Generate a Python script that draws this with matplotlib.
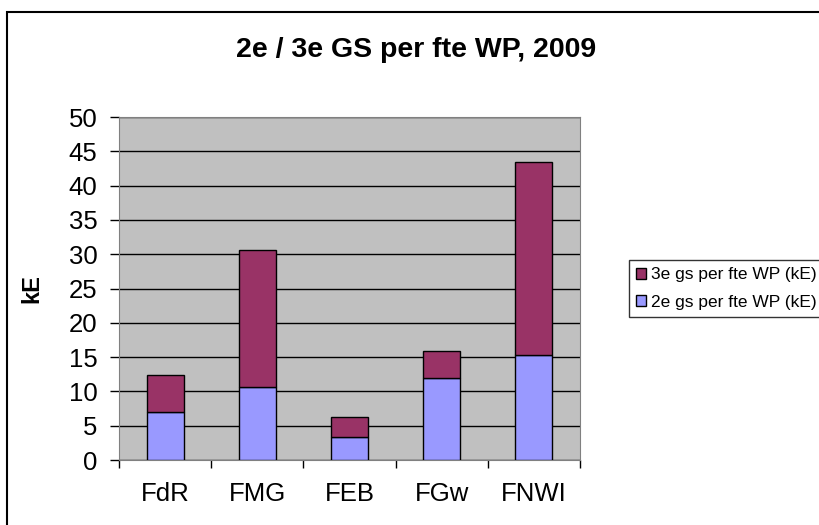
import matplotlib
matplotlib.use("Agg")
import matplotlib.pyplot as plt
from matplotlib.patches import Rectangle
import numpy as np

plt.rcParams["font.family"] = ["Liberation Sans", "DejaVu Sans"]

# --- data ---
categories = ["FdR", "FMG", "FEB", "FGw", "FNWI"]
gs2 = [7.0, 10.6, 3.3, 12.0, 15.3]    # 2e gs per fte WP (kE)
gs3 = [5.4, 20.0, 2.9, 3.9, 28.1]     # 3e gs per fte WP (kE)
yticks = list(range(0, 55, 5))

col2 = "#9999FF"
col3 = "#993366"

fig = plt.figure(figsize=(8.19, 5.25), dpi=100)
ax = fig.add_axes([0.1453, 0.1238, 0.5629, 0.6533])

x = np.arange(len(categories))
b2 = ax.bar(x, gs2, width=0.4, color=col2, edgecolor="black", linewidth=1,
            zorder=3, label="2e gs per fte WP (kE)")
b3 = ax.bar(x, gs3, width=0.4, bottom=gs2, color=col3, edgecolor="black",
            linewidth=1, zorder=3, label="3e gs per fte WP (kE)")

ax.set_facecolor("#C0C0C0")
ax.set_xlim(-0.5, len(categories) - 0.5)
ax.set_ylim(0, 50)
ax.set_yticks(yticks)
ax.yaxis.grid(True, color="black", linewidth=1, zorder=1)
ax.set_axisbelow(True)

# category ticks on the boundaries, labels in the middle
ax.set_xticks(np.arange(len(categories) + 1) - 0.5)
ax.set_xticklabels([])
ax.set_xticks(x, minor=True)
ax.set_xticklabels(categories, minor=True, fontsize=18.5)
ax.tick_params(axis="x", which="minor", length=0, pad=16)
ax.tick_params(axis="x", which="major", length=6, width=1, color="black", direction="out")
ax.tick_params(axis="y", length=6.5, width=1, color="black", labelsize=18.5, pad=9)

for s in ["top", "right", "left", "bottom"]:
    ax.spines[s].set_color("#808080")

ax.set_ylabel("kE", fontsize=17, fontweight="bold")
ax.yaxis.set_label_coords(-0.165, 0.5)
fig.text(0.508, 0.905, "2e / 3e GS per fte WP, 2009", ha="center", va="center",
         fontsize=20.5, fontweight="bold")

leg = ax.legend(handles=[b3, b2], loc="center left", bbox_to_anchor=(1.106, 0.5),
                fontsize=12.5, frameon=True, fancybox=False, edgecolor="black",
                handlelength=0.6, handleheight=0.6, handletextpad=0.3,
                borderpad=0.4, labelspacing=0.7, borderaxespad=0)
leg.get_frame().set_linewidth(1)

# outer chart frame (runs off the right and bottom edges)
fig.patches.append(Rectangle((7 / 819, -0.1), 1.0, 1 - 12 / 525 + 0.1,
                             transform=fig.transFigure, fill=False,
                             edgecolor="black", linewidth=1.5, clip_on=False))

fig.savefig("out.png", dpi=100)
